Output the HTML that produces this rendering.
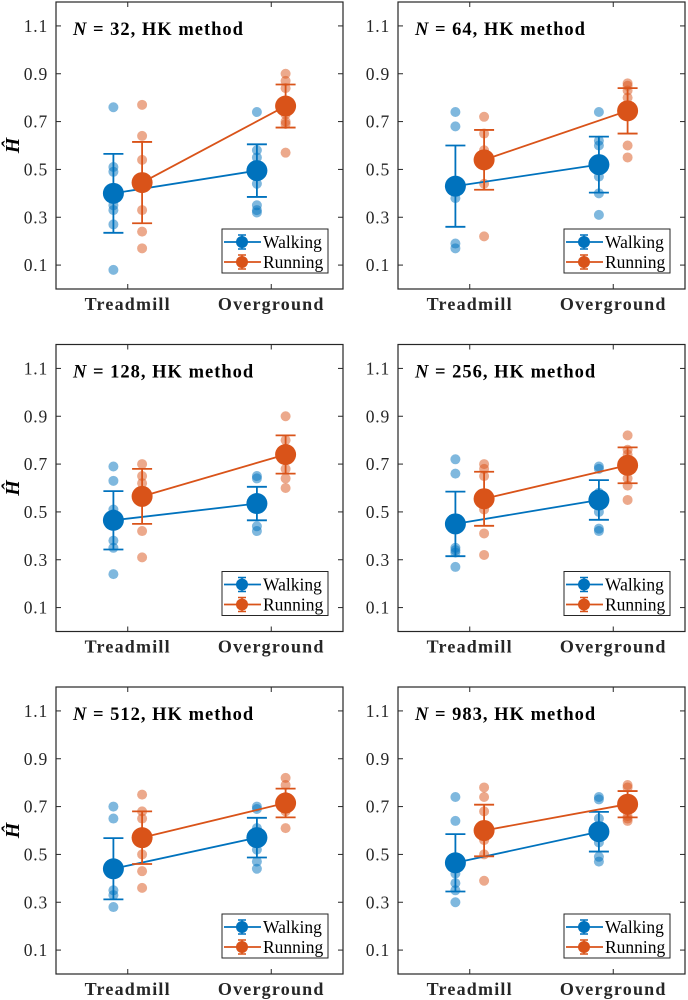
<!DOCTYPE html>
<html><head><meta charset="utf-8"><style>
html,body{margin:0;padding:0;background:#fff;}
svg{display:block;font-family:"Liberation Serif",serif;}
</style></head><body>
<svg id="chart" width="688" height="1000" viewBox="0 0 688 1000" xmlns="http://www.w3.org/2000/svg"></svg>
<script>
const panelTitles = ["32","64","128","256","512","983"];
const categories = ["Treadmill","Overground"];
const seriesNames = ["Walking","Running"];
const yTicks = [0.1,0.3,0.5,0.7,0.9,1.1];
// means [panel][category]
const walkMeans = [[0.40,0.495],[0.43,0.52],[0.465,0.535],[0.45,0.55],[0.44,0.57],[0.465,0.595]];
const runMeans  = [[0.445,0.765],[0.54,0.745],[0.565,0.74],[0.555,0.695],[0.57,0.715],[0.60,0.71]];
const walkSD = [[0.165,0.11],[0.17,0.117],[0.122,0.07],[0.135,0.083],[0.128,0.083],[0.12,0.083]];
const runSD  = [[0.17,0.09],[0.125,0.095],[0.115,0.08],[0.113,0.075],[0.11,0.06],[0.108,0.055]];
const walkPts = [
 [[0.76,0.51,0.49,0.40,0.35,0.33,0.27,0.08],[0.74,0.58,0.55,0.49,0.44,0.35,0.33,0.32]],
 [[0.74,0.68,0.43,0.38,0.19,0.17],[0.74,0.62,0.60,0.52,0.47,0.40,0.31]],
 [[0.69,0.63,0.51,0.49,0.38,0.35,0.24],[0.65,0.64,0.53,0.44,0.42]],
 [[0.72,0.66,0.35,0.34,0.33,0.27],[0.69,0.68,0.58,0.50,0.43,0.42]],
 [[0.70,0.65,0.35,0.33,0.28],[0.70,0.69,0.61,0.52,0.47,0.44]],
 [[0.74,0.64,0.42,0.38,0.35,0.30],[0.74,0.73,0.65,0.55,0.49,0.47]]
];
const runPts = [
 [[0.77,0.64,0.54,0.44,0.33,0.24,0.17],[0.90,0.87,0.84,0.77,0.73,0.70,0.69,0.57]],
 [[0.72,0.65,0.58,0.54,0.44,0.22],[0.86,0.85,0.83,0.80,0.74,0.60,0.55]],
 [[0.70,0.65,0.62,0.56,0.42,0.31],[0.90,0.80,0.75,0.68,0.64,0.60]],
 [[0.70,0.68,0.65,0.56,0.51,0.41,0.32],[0.82,0.76,0.74,0.64,0.61,0.55]],
 [[0.75,0.68,0.65,0.57,0.50,0.43,0.36],[0.82,0.79,0.74,0.68,0.61]],
 [[0.78,0.74,0.68,0.56,0.50,0.39],[0.79,0.78,0.66,0.65,0.64]]
];
const colors = ["#0072BD","#D95319"];
const NS="http://www.w3.org/2000/svg";
const svg=document.getElementById('chart');
function mk(tag,attrs,parent){const e=document.createElementNS(NS,tag);for(const k in attrs)e.setAttribute(k,attrs[k]);(parent||svg).appendChild(e);return e;}
const colX=[56,398], rowY=[2,344.5,687], W=287, H=287;
for(let p=0;p<6;p++){
  const L=colX[p%2], T=rowY[Math.floor(p/2)], B=T+H, R=L+W;
  const g=mk('g',{});
  
  
  const yS=v=>B-(v/1.2)*H;
  const xS=c=>L+(c+0.5)/2*W;
  mk('rect',{x:L,y:T,width:W,height:H,fill:'#fff',stroke:'#262626','stroke-width':1.2},g);
  yTicks.forEach(t=>{const y=yS(t);
    mk('line',{x1:L,x2:L+5,y1:y,y2:y,stroke:'#262626'},g);
    mk('line',{x1:R,x2:R-5,y1:y,y2:y,stroke:'#262626'},g);
    const tx=mk('text',{x:L-8,y:y+6,'text-anchor':'end','font-size':17.5,'letter-spacing':0.8,fill:'#262626'},g);
    tx.textContent=t.toFixed(1);
    
    
  });
  categories.forEach((c,i)=>{const x=xS(i);
    mk('line',{x1:x,x2:x,y1:B,y2:B-5,stroke:'#262626'},g);
    mk('line',{x1:x,x2:x,y1:T,y2:T+5,stroke:'#262626'},g);
    const tx=mk('text',{x:x,y:B+21,'text-anchor':'middle','font-size':18,'letter-spacing':1.2,'font-weight':'bold',fill:'#262626'},g);
    tx.textContent=c;
    
    
  });
  const title=mk('text',{x:L+17,y:T+33,'font-size':18.5,'letter-spacing':1,'font-weight':'bold',fill:'#000','xml:space':'preserve'},g);
  title.innerHTML='<tspan font-style="italic">N</tspan> = '+panelTitles[p]+',  HK method';
  
  
  if(p%2===0){
    const yl=mk('text',{x:0,y:0,transform:`translate(19,${(T+B)/2}) rotate(-90)`,'text-anchor':'middle','font-size':20,'font-weight':'bold','font-style':'italic',fill:'#000'},g);
    yl.textContent='Ĥ';
    
    
  }
  const data=[[walkMeans,walkSD,walkPts],[runMeans,runSD,runPts]];
  data.forEach((d,s)=>{
    const off=s===0?-0.1:0.1, col=colors[s];
    d[2][p].forEach((vals,ci)=>vals.forEach(v=>{
      const c=mk('circle',{cx:xS(ci+off),cy:yS(v),r:5,fill:col,'fill-opacity':0.5},g);
      
      
    }));
  });
  data.forEach((d,s)=>{
    const off=s===0?-0.1:0.1, col=colors[s];
    const m=d[0][p], sd=d[1][p];
    const ln=mk('line',{x1:xS(off),y1:yS(m[0]),x2:xS(1+off),y2:yS(m[1]),stroke:col,'stroke-width':1.8},g);
    
    
    m.forEach((mv,ci)=>{const x=xS(ci+off);
      const eb=mk('path',{d:`M${x},${yS(mv-sd[ci])}V${yS(mv+sd[ci])}M${x-10},${yS(mv-sd[ci])}h20M${x-10},${yS(mv+sd[ci])}h20`,stroke:col,'stroke-width':1.8,fill:'none'},g);
      
      
      const mc=mk('circle',{cx:x,cy:yS(mv),r:10.5,fill:col},g);
      
      
    });
  });
  const lg=mk('g',{},g);
  
  
  const lx=L+166, ly=B-60;
  mk('rect',{x:lx,y:ly,width:106,height:44,fill:'#fff',stroke:'#262626','stroke-width':1},lg);
  seriesNames.forEach((n,s)=>{
    const y=ly+13+s*20;
    const e=mk('g',{},lg);
    
    
    mk('line',{x1:lx+2,x2:lx+39,y1:y,y2:y,stroke:colors[s],'stroke-width':1.8},e);
    mk('path',{d:`M${lx+20},${y-7}V${y+7}M${lx+16},${y-7}h8M${lx+16},${y+7}h8`,stroke:colors[s],'stroke-width':1.5,fill:'none'},e);
    mk('circle',{cx:lx+20,cy:y,r:6,fill:colors[s]},e);
    const t=mk('text',{x:lx+41,y:y+6,'font-size':17.5,fill:'#000'},e);
    t.textContent=n;
  });
}
</script>
</body></html>
